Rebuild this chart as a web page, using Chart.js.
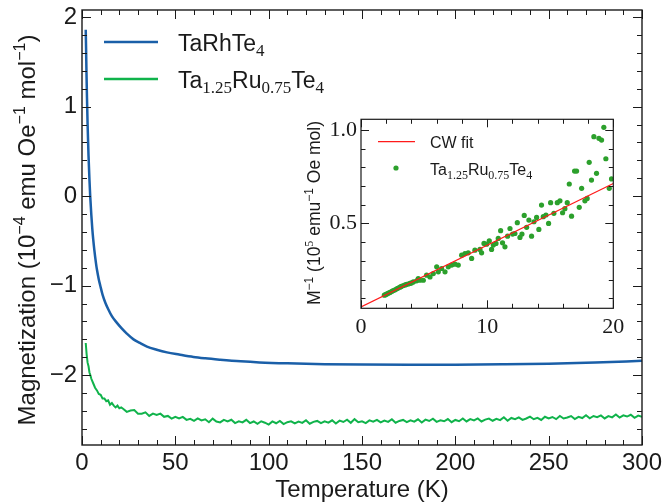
<!DOCTYPE html>
<html><head><meta charset="utf-8">
<script src="https://cdn.jsdelivr.net/npm/chart.js@4.4.1/dist/chart.umd.min.js"></script>
<style>
html,body{margin:0;padding:0;background:#fff;}
#wrap{position:relative;width:671px;height:502px;overflow:hidden;}
#main{position:absolute;left:0;top:0;}
#inset{position:absolute;left:290px;top:108px;}
</style></head><body>
<div id="wrap"><canvas id="main" width="671" height="502"></canvas><canvas id="inset" width="345" height="235"></canvas></div>
<script>
// ---------- data ----------
const rhT = [2.0,2.2,2.4,2.67,3.0,3.5,4.0,4.4,5.0,5.5,6.0,6.6,7.5,8.0,9.0,9.8,11,12.5,14,16,18.5,21.4,24,27.6,31,34.8,40,45.5,52,59.7,66,74,85,95,110,130,150,175,200,225,250,275,300];
const rhM = [1.86,1.63,1.38,1.10,0.80,0.45,0.18,0.00,-0.21,-0.36,-0.48,-0.60,-0.75,-0.82,-0.93,-1.00,-1.10,-1.19,-1.26,-1.34,-1.41,-1.48,-1.535,-1.60,-1.64,-1.68,-1.715,-1.745,-1.77,-1.797,-1.812,-1.827,-1.845,-1.857,-1.868,-1.877,-1.882,-1.884,-1.883,-1.879,-1.872,-1.858,-1.840];

const ruT = [2,2.5,3,3.5,4,4.5,5,6,7,8,9,10,11,12,13,14,15,16,17,18,19,20,21,22,24,26,28,30,32,34,36,38,40,42,44,46,48,50,52,54,56,58,60,62,64,66,68,70,72,74,76,78,80,82,84,86,88,90,92,94,96,98,100,102,104,106,108,110,112,114,116,118,120,122,124,126,128,130,132,134,136,138,140,142,144,146,148,150,152,154,156,158,160,162,164,166,168,170,172,174,176,178,180,182,184,186,188,190,192,194,196,198,200,202,204,206,208,210,212,214,216,218,220,222,224,226,228,230,232,234,236,238,240,242,244,246,248,250,252,254,256,258,260,262,264,266,268,270,272,274,276,278,280,282,284,286,288,290,292,294,296,298,300];
const ruM = [-1.64,-1.77,-1.86,-1.90,-1.97,-2.00,-2.04,-2.09,-2.14,-2.17,-2.21,-2.22,-2.26,-2.26,-2.29,-2.28,-2.33,-2.31,-2.34,-2.36,-2.34,-2.37,-2.36,-2.375,-2.41,-2.395,-2.39,-2.43,-2.43,-2.415,-2.455,-2.43,-2.445,-2.43,-2.465,-2.455,-2.485,-2.465,-2.483,-2.466,-2.499,-2.487,-2.51,-2.482,-2.505,-2.493,-2.525,-2.485,-2.517,-2.528,-2.50,-2.517,-2.498,-2.535,-2.516,-2.528,-2.499,-2.535,-2.517,-2.543,-2.515,-2.531,-2.552,-2.517,-2.537,-2.511,-2.546,-2.525,-2.515,-2.539,-2.519,-2.533,-2.503,-2.542,-2.522,-2.511,-2.536,-2.515,-2.53,-2.504,-2.539,-2.508,-2.523,-2.497,-2.532,-2.491,-2.526,-2.516,-2.535,-2.505,-2.519,-2.499,-2.528,-2.508,-2.522,-2.492,-2.531,-2.511,-2.50,-2.525,-2.504,-2.519,-2.493,-2.528,-2.497,-2.512,-2.486,-2.521,-2.505,-2.515,-2.49,-2.525,-2.50,-2.514,-2.483,-2.517,-2.491,-2.505,-2.483,-2.517,-2.496,-2.485,-2.509,-2.488,-2.502,-2.47,-2.509,-2.478,-2.492,-2.471,-2.50,-2.484,-2.463,-2.492,-2.476,-2.50,-2.464,-2.483,-2.467,-2.491,-2.455,-2.484,-2.473,-2.457,-2.491,-2.465,-2.479,-2.448,-2.482,-2.456,-2.47,-2.449,-2.483,-2.457,-2.471,-2.44,-2.474,-2.448,-2.462,-2.442,-2.476,-2.451,-2.465];

const insetT = [1.85,1.95,2.05,2.17,2.30,2.45,2.56,2.70,2.83,2.95,3.09,3.20,3.36,3.50,3.62,3.75,3.88,4.00,4.15,4.41,4.54,4.68,4.94,5.2,5.47,5.73,6.0,6.13,6.39,6.66,6.92,7.19,7.45,7.71,7.98,8.24,8.5,8.77,9.03,9.43,9.56,9.75,9.96,10.17,10.35,10.49,10.7,10.88,11.07,11.22,11.41,11.62,11.81,12.02,12.2,12.39,12.6,12.76,12.94,13.13,13.31,13.52,13.71,13.92,14.1,14.31,14.45,14.66,14.87,15.03,15.29,15.56,15.77,15.98,16.16,16.35,16.51,16.69,16.93,17.09,17.3,17.49,17.75,17.93,18.09,18.27,18.46,18.67,18.86,19.07,19.25,19.41,19.68,19.86];
const insetM = [0.116,0.119,0.123,0.127,0.131,0.137,0.141,0.145,0.150,0.154,0.159,0.163,0.168,0.171,0.174,0.176,0.179,0.182,0.187,0.193,0.205,0.196,0.196,0.223,0.214,0.232,0.268,0.241,0.259,0.241,0.268,0.277,0.282,0.277,0.330,0.339,0.343,0.313,0.357,0.361,0.343,0.393,0.389,0.407,0.361,0.384,0.393,0.42,0.461,0.396,0.375,0.432,0.473,0.443,0.446,0.504,0.425,0.443,0.543,0.479,0.518,0.432,0.509,0.532,0.468,0.598,0.536,0.545,0.500,0.611,0.554,0.611,0.621,0.557,0.579,0.611,0.711,0.539,0.780,0.780,0.586,0.688,0.621,0.634,0.827,0.732,0.964,0.768,0.955,0.946,1.014,0.846,0.688,0.738];
const fitT = [0, 20];
const fitM = [0.053, 0.714];

const mainXTicks = [0,50,100,150,200,250,300];
const mainXMinor = [10,20,30,40,60,70,80,90,110,120,130,140,160,170,180,190,210,220,230,240,260,270,280,290];
const mainYTicks = [-2,-1,0,1,2];
const mainYMinor = [-2.6,-2.4,-2.2,-1.8,-1.6,-1.4,-1.2,-0.8,-0.6,-0.4,-0.2,0.2,0.4,0.6,0.8,1.2,1.4,1.6,1.8];
const insetXTicks = [0,10,20];
const insetXMinor = [2,4,6,8,12,14,16,18];
const insetYTicks = [0.5,1.0];
const insetYMinor = [0.1,0.2,0.3,0.4,0.6,0.7,0.8,0.9];

const seriesNames = ['TaRhTe4','Ta1.25Ru0.75Te4'];
const BLUE = '#1a5fa8', GREEN = '#10b34b', DOTGREEN = '#2ca02c', RED = '#ff1a1a';
const SANS = '"Liberation Sans", Arial, sans-serif';
const SERIF = '"Liberation Serif", "DejaVu Serif", serif';
const INK = '#1a1a1a';

function pts(xs, ys){ return xs.map((v,i)=>({x:v, y:ys[i]})); }
function minus(v, dec){ const s = dec==null ? String(Math.abs(v)) : Math.abs(v).toFixed(dec); return (v<0?'\u2212':'') + s; }
function noPad(s){ s.paddingTop = 0; s.paddingBottom = 0; s.paddingLeft = 0; s.paddingRight = 0; }

function drawRich(ctx, segs, x, y, align){
  let w = 0;
  for (const s of segs){ ctx.font = s.font; w += ctx.measureText(s.t).width; }
  let cx = align === 'center' ? x - w/2 : x;
  ctx.textAlign = 'left'; ctx.textBaseline = 'alphabetic';
  for (const s of segs){ ctx.font = s.font; ctx.fillText(s.t, cx, y + (s.dy||0)); cx += ctx.measureText(s.t).width; }
}

function framePlugin(o){
  return { id:'frame', afterDraw(chart){
    const {ctx, chartArea:a} = chart; const x = chart.scales.x, y = chart.scales.y;
    ctx.save();
    ctx.strokeStyle = INK; ctx.lineWidth = 1;
    ctx.beginPath();
    const xt = (vals, len) => { for (const v of vals){ const p = Math.round(x.getPixelForValue(v)) + 0.5; ctx.moveTo(p, a.bottom); ctx.lineTo(p, a.bottom-len); ctx.moveTo(p, a.top); ctx.lineTo(p, a.top+len);} };
    const yt = (vals, len) => { for (const v of vals){ const p = Math.round(y.getPixelForValue(v)) + 0.5; ctx.moveTo(a.left, p); ctx.lineTo(a.left+len, p); ctx.moveTo(a.right, p); ctx.lineTo(a.right-len, p);} };
    xt(o.xMajor, o.major); xt(o.xMinor, o.minor); yt(o.yMajor, o.major); yt(o.yMinor, o.minor);
    ctx.stroke();
    ctx.lineWidth = o.frame;
    ctx.strokeRect(a.left, a.top, a.right-a.left, a.bottom-a.top);
    ctx.restore();
    if (o.extra) o.extra(chart);
  }};
}

// ---------- main chart ----------
const mainExtra = (chart) => {
  const ctx = chart.ctx;
  ctx.save();
  ctx.fillStyle = INK;
  ctx.translate(35, 230); ctx.rotate(-Math.PI/2);
  const F = '24px ' + SANS, S = '16px ' + SANS;
  drawRich(ctx, [
    {t:'Magnetization (10', font:F}, {t:'\u22124', font:S, dy:-10},
    {t:' emu Oe', font:F}, {t:'\u22121', font:S, dy:-10},
    {t:' mol', font:F}, {t:'\u22121', font:S, dy:-10}, {t:')', font:F}
  ], 0, 0, 'center');
  ctx.restore();
  ctx.save();
  const items = [
    {c:BLUE, y:42, segs:[{t:'TaRhTe', font:'23px '+SANS},{t:'4', font:'17px '+SERIF, dy:5}]},
    {c:GREEN, y:79, segs:[{t:'Ta', font:'23px '+SANS},{t:'1.25', font:'17px '+SERIF, dy:5},{t:'Ru', font:'23px '+SANS},{t:'0.75', font:'17px '+SERIF, dy:5},{t:'Te', font:'23px '+SANS},{t:'4', font:'17px '+SERIF, dy:5}]}
  ];
  for (const it of items){
    ctx.strokeStyle = it.c; ctx.lineWidth = 2.5;
    ctx.beginPath(); ctx.moveTo(104, it.y); ctx.lineTo(158, it.y); ctx.stroke();
    ctx.fillStyle = INK;
    drawRich(ctx, it.segs, 178, it.y + 9, 'left');
  }
  ctx.restore();
};

new Chart(document.getElementById('main'), {
  type: 'line',
  data: { datasets: [
    { label: seriesNames[0], data: pts(rhT, rhM), borderColor: BLUE, borderWidth: 2.5, pointRadius: 0, cubicInterpolationMode: 'monotone', fill:false },
    { label: seriesNames[1], data: pts(ruT, ruM), borderColor: GREEN, borderWidth: 2, pointRadius: 0, tension: 0, fill:false }
  ]},
  options: {
    responsive: false, animation: false,
    layout: { autoPadding: false, padding: { left: 0, top: 10, right: 29, bottom: 0 } },
    plugins: { legend: { display: false }, tooltip: { enabled: false } },
    scales: {
      x: { type: 'linear', min: 0, max: 300,
        afterFit(s){ s.height = 57; noPad(s); },
        afterBuildTicks(s){ s.ticks = mainXTicks.map(v=>({value:v})); },
        grid: { display: false, drawTicks: false }, border: { display: false },
        ticks: { padding: 4, color: INK, font: { family: SANS, size: 24, lineHeight: 1.2 }, maxRotation: 0, autoSkip: false, callback: v => minus(v) },
        title: { display: true, text: 'Temperature (K)', color: INK, font: { family: SANS, size: 24, lineHeight: 1 }, padding: { top: 0, bottom: 0 } }
      },
      y: { type: 'linear', min: -2.78, max: 2.08,
        afterFit(s){ s.width = 82; noPad(s); },
        afterBuildTicks(s){ s.ticks = mainYTicks.map(v=>({value:v})); },
        grid: { display: false, drawTicks: false }, border: { display: false },
        ticks: { padding: 5, color: INK, font: { family: SANS, size: 24 }, autoSkip: false, callback: v => minus(v) }
      }
    }
  },
  plugins: [framePlugin({xMajor: mainXTicks, xMinor: mainXMinor, yMajor: mainYTicks, yMinor: mainYMinor, major: 9, minor: 5, frame: 1.4, extra: mainExtra})]
});

// ---------- inset chart ----------
const insetExtra = (chart) => {
  const ctx = chart.ctx;
  ctx.save();
  ctx.fillStyle = INK;
  ctx.translate(30, 105); ctx.rotate(-Math.PI/2);
  const F = '17.5px ' + SANS, S = '12px ' + SANS, SS = '12px ' + SERIF;
  drawRich(ctx, [
    {t:'M', font:F}, {t:'\u22121', font:S, dy:-7}, {t:' (10', font:F}, {t:'5', font:SS, dy:-7},
    {t:' emu', font:F}, {t:'\u22121', font:S, dy:-7}, {t:' Oe mol)', font:F}
  ], 0, 0, 'center');
  ctx.restore();
  ctx.save();
  ctx.strokeStyle = RED; ctx.lineWidth = 1.2;
  ctx.beginPath(); ctx.moveTo(88, 33.7); ctx.lineTo(125, 33.7); ctx.stroke();
  ctx.fillStyle = DOTGREEN;
  ctx.beginPath(); ctx.arc(106, 60, 2.6, 0, Math.PI*2); ctx.fill();
  ctx.fillStyle = INK;
  drawRich(ctx, [{t:'CW fit', font:'16px '+SANS}], 140, 39.7, 'left');
  drawRich(ctx, [{t:'Ta', font:'16px '+SANS},{t:'1.25', font:'12px '+SERIF, dy:4},{t:'Ru', font:'16px '+SANS},{t:'0.75', font:'12px '+SERIF, dy:4},{t:'Te', font:'16px '+SANS},{t:'4', font:'12px '+SERIF, dy:4}], 140, 67, 'left');
  ctx.restore();
};

new Chart(document.getElementById('inset'), {
  type: 'scatter',
  data: { datasets: [
    { type: 'line', label: 'CW fit', data: pts(fitT, fitM), borderColor: RED, borderWidth: 1.2, pointRadius: 0, fill:false, order: 1 },
    { type: 'scatter', label: seriesNames[1], data: pts(insetT, insetM), backgroundColor: DOTGREEN, borderWidth: 0, pointRadius: 2.6, order: 2 }
  ]},
  options: {
    responsive: false, animation: false,
    layout: { autoPadding: false, padding: { left: 0, top: 11.3, right: 21.7, bottom: 0 } },
    plugins: { legend: { display: false }, tooltip: { enabled: false } },
    scales: {
      x: { type: 'linear', min: 0, max: 20,
        afterFit(s){ s.height = 34.7; noPad(s); },
        afterBuildTicks(s){ s.ticks = insetXTicks.map(v=>({value:v})); },
        grid: { display: false, drawTicks: false }, border: { display: false },
        ticks: { padding: 6, color: INK, font: { family: SERIF, size: 22, lineHeight: 1.2 }, maxRotation: 0, autoSkip: false, callback: v => String(v) }
      },
      y: { type: 'linear', min: 0.046, max: 1.057,
        afterFit(s){ s.width = 71; noPad(s); },
        afterBuildTicks(s){ s.ticks = insetYTicks.map(v=>({value:v})); },
        grid: { display: false, drawTicks: false }, border: { display: false },
        ticks: { padding: 4, color: INK, font: { family: SERIF, size: 22 }, autoSkip: false, callback: v => minus(v, 1) }
      }
    }
  },
  plugins: [framePlugin({xMajor: insetXTicks, xMinor: insetXMinor, yMajor: insetYTicks, yMinor: insetYMinor, major: 8, minor: 4.5, frame: 1.2, extra: insetExtra})]
});
</script>
</body></html>
